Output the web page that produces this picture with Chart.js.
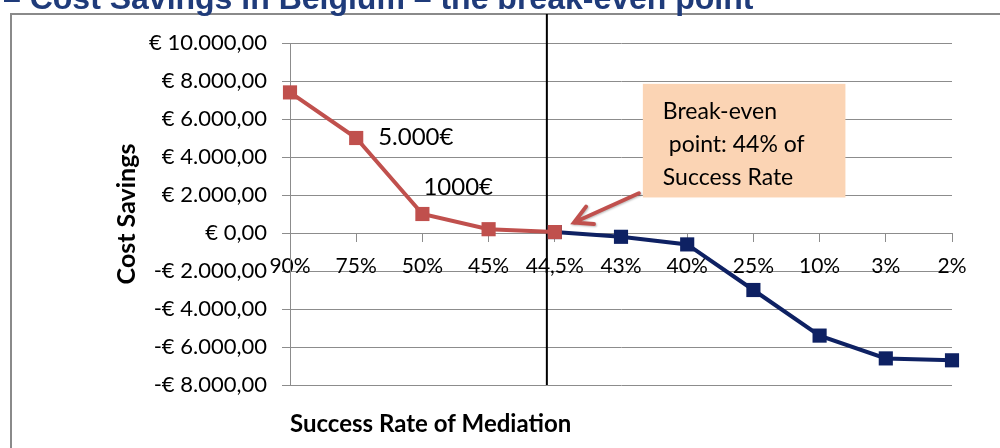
<!DOCTYPE html>
<html>
<head>
<meta charset="utf-8">
<script src="https://cdn.jsdelivr.net/npm/chart.js@4/dist/chart.umd.min.js"></script>
<style>
  html, body { margin: 0; padding: 0; background: #fff; }
  #wrap { width: 1000px; height: 448px; position: relative; }
</style>
</head>
<body>
<div id="wrap"><canvas id="savingsChart"></canvas></div>
<script>
// success rates on the category axis
const categories = ['90%', '75%', '50%', '45%', '44,5%', '43%', '40%', '25%', '10%', '3%', '2%'];
// cost savings in euro, split at the break-even point
const aboveBreakEven = [7400, 5000, 1000, 200, 50, null, null, null, null, null, null];
const belowBreakEven = [null, null, null, null, 50, -200, -600, -3000, -5400, -6600, -6700];
// y axis range
const yMin = -8000;
const yMax = 10000;
const yStep = 2000;
// text labels put next to some points
const pointNotes = [
    { index: 1, text: '5.000€' },
    { index: 2, text: '1000€' }
];
const calloutLines = ['Break-even', ' point: 44% of', 'Success Rate'];

const RED = '#C0504D';
const NAVY = '#0E2163';
const GRID = '#8c8c8c';
const FONT = 'Lato, "Open Sans", sans-serif';

function euro(v) {
    const digits = String(Math.abs(v)).replace(/\B(?=(\d{3})+(?!\d))/g, '.');
    return (v < 0 ? '-' : '') + '€ ' + digits + ',00';
}

const extras = {
    id: 'extras',
    beforeDraw(chart) {
        const ctx = chart.ctx;
        ctx.save();
        // outer chart border
        ctx.strokeStyle = '#8a8a8a';
        ctx.lineWidth = 2;
        ctx.strokeRect(11, 14, 1100, 600);
        // page heading, cut off at the top
        ctx.fillStyle = '#1F3B7A';
        ctx.font = 'bold 32px "Liberation Sans", Arial, sans-serif';
        ctx.textBaseline = 'alphabetic';
        ctx.fillText('– Cost Savings in Belgium – the break-even point', 3, 9);
        ctx.restore();
    },
    beforeDatasetsDraw(chart) {
        const ctx = chart.ctx;
        const x = chart.scales.x;
        const px = x.getPixelForValue(3) + 0.88 * (x.getPixelForValue(4) - x.getPixelForValue(3));
        ctx.save();
        ctx.strokeStyle = '#000';
        ctx.lineWidth = 2;
        ctx.beginPath();
        ctx.moveTo(px, 14);
        ctx.lineTo(px, chart.chartArea.bottom);
        ctx.stroke();
        ctx.restore();
    },
    afterDatasetsDraw(chart) {
        const ctx = chart.ctx;
        const xs = chart.scales.x;
        const ys = chart.scales.y;
        const step = xs.getPixelForValue(1) - xs.getPixelForValue(0);
        const xAt = (i) => xs.getPixelForValue(0) + i * step;

        ctx.save();
        // notes next to points
        ctx.fillStyle = '#000';
        ctx.font = '24px ' + FONT;
        ctx.textBaseline = 'middle';
        ctx.textAlign = 'left';
        const n0 = pointNotes[0];
        ctx.fillText(n0.text, xs.getPixelForValue(n0.index) + 22, ys.getPixelForValue(aboveBreakEven[n0.index]) - 1);
        const n1 = pointNotes[1];
        ctx.fillText(n1.text, xs.getPixelForValue(n1.index) + 1, ys.getPixelForValue(aboveBreakEven[n1.index]) - 27);

        // callout box
        const bx0 = xAt(5.33), bx1 = xAt(8.39);
        const by0 = ys.getPixelForValue(7850), by1 = ys.getPixelForValue(1870);
        ctx.fillStyle = '#FBD4B4';
        ctx.fillRect(bx0, by0, bx1 - bx0, by1 - by0);
        ctx.fillStyle = '#000';
        ctx.font = '23px ' + FONT;
        ctx.textBaseline = 'alphabetic';
        calloutLines.forEach((line, i) => {
            ctx.fillText(line, bx0 + 20, by0 + 35 + i * 33);
        });

        // arrow pointing at the break-even point
        const ax0 = xAt(5.27), ay0 = ys.getPixelForValue(2090);
        const ax1 = xAt(4.29), ay1 = ys.getPixelForValue(550);
        const ang = Math.atan2(ay1 - ay0, ax1 - ax0);
        ctx.strokeStyle = RED;
        ctx.lineWidth = 4;
        ctx.lineCap = 'round';
        ctx.shadowColor = 'rgba(0,0,0,0.25)';
        ctx.shadowOffsetX = 1;
        ctx.shadowOffsetY = 1;
        ctx.shadowBlur = 2;
        ctx.beginPath();
        ctx.moveTo(ax0, ay0);
        ctx.lineTo(ax1, ay1);
        ctx.moveTo(ax1 - 20 * Math.cos(ang - 0.5), ay1 - 20 * Math.sin(ang - 0.5));
        ctx.lineTo(ax1, ay1);
        ctx.lineTo(ax1 - 20 * Math.cos(ang + 0.5), ay1 - 20 * Math.sin(ang + 0.5));
        ctx.stroke();
        ctx.shadowColor = 'transparent';

        // x axis title, left aligned with the plot
        ctx.fillStyle = '#000';
        ctx.font = 'bold 24px ' + FONT;
        ctx.textBaseline = 'middle';
        ctx.fillText('Success Rate of Mediation', chart.chartArea.left, 424);
        ctx.restore();
    }
};

const ctx = document.getElementById('savingsChart').getContext('2d');
new Chart(ctx, {
    type: 'line',
    data: {
        labels: categories,
        datasets: [{
            label: 'Above break-even',
            data: aboveBreakEven,
            borderColor: RED,
            backgroundColor: RED,
            borderWidth: 4,
            pointStyle: 'rect',
            pointRadius: 10,
            pointHoverRadius: 10,
            pointBorderWidth: 0,
            tension: 0
        }, {
            label: 'Below break-even',
            data: belowBreakEven,
            borderColor: NAVY,
            backgroundColor: NAVY,
            borderWidth: 4,
            pointStyle: 'rect',
            pointRadius: 10,
            pointHoverRadius: 10,
            pointBorderWidth: 0,
            tension: 0
        }]
    },
    options: {
        responsive: true,
        maintainAspectRatio: false,
        animation: false,
        layout: {
            padding: { top: 43, right: 48, bottom: 63, left: 110 }
        },
        plugins: {
            legend: { display: false },
            tooltip: { enabled: false }
        },
        scales: {
            x: {
                type: 'category',
                position: { y: 0 },
                offset: false,
                grid: {
                    drawOnChartArea: false,
                    drawTicks: true,
                    tickLength: 8,
                    color: GRID
                },
                border: { color: GRID, width: 1 },
                ticks: {
                    autoSkip: false,
                    maxRotation: 0,
                    padding: 13,
                    color: '#000',
                    font: { family: FONT, size: 21 }
                }
            },
            y: {
                min: yMin,
                max: yMax,
                afterFit(scale) { scale.width = 180; },
                grid: {
                    color: GRID,
                    tickLength: 8
                },
                border: { color: GRID, width: 1 },
                ticks: {
                    stepSize: yStep,
                    padding: 15,
                    color: '#000',
                    font: { family: FONT, size: 22 },
                    callback: (v) => euro(v)
                },
                title: {
                    display: true,
                    text: 'Cost Savings',
                    color: '#000',
                    padding: { top: 2, bottom: 2 },
                    font: { family: FONT, size: 25, weight: 'bold' }
                }
            }
        }
    },
    plugins: [extras]
});
</script>
</body>
</html>
